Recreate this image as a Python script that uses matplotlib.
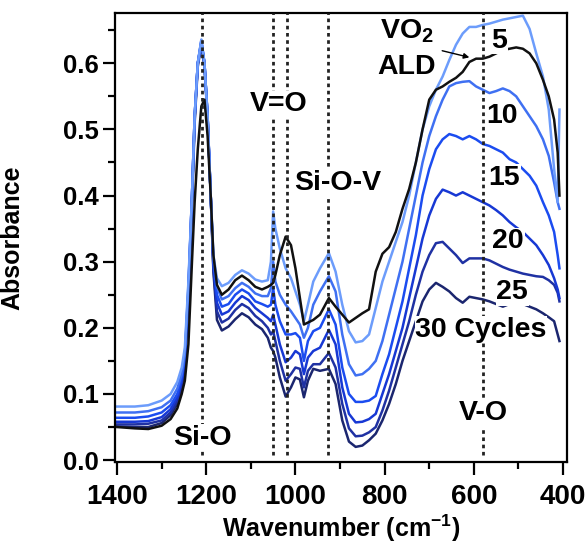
import matplotlib
matplotlib.use("Agg")
import matplotlib.pyplot as plt
from matplotlib.ticker import MultipleLocator

plt.rcParams["font.family"] = ["Liberation Sans", "DejaVu Sans"]
plt.rcParams["font.weight"] = "bold"
plt.rcParams["mathtext.default"] = "regular"

# shared wavenumber grid (cm^-1)
wavenumber = [
    1400, 1360, 1330, 1300, 1280, 1265, 1255, 1248, 1240, 1232, 1226, 1219,
    1211, 1204, 1197, 1190, 1184, 1176, 1165, 1150, 1135, 1120, 1105, 1090,
    1075, 1062, 1055, 1050, 1045, 1035, 1022, 1010, 1000, 990, 981, 972,
    960, 945, 925, 910, 895, 880, 865, 850, 835, 820, 805, 790, 775, 760,
    745, 730, 715, 700, 685, 670, 655, 640, 625, 610, 595, 580, 565, 550,
    535, 520, 505, 490, 475, 460, 445, 432, 420, 412, 408,
]

abs_5 = [
    0.081, 0.081, 0.083, 0.090, 0.100, 0.118, 0.140, 0.170, 0.270, 0.400, 0.520, 0.600,
    0.636, 0.600, 0.520, 0.400, 0.310, 0.275, 0.263, 0.268, 0.280, 0.287, 0.282, 0.273,
    0.270, 0.272, 0.300, 0.376, 0.350, 0.320, 0.290, 0.275, 0.255, 0.235, 0.210, 0.235,
    0.270, 0.290, 0.313, 0.285, 0.235, 0.195, 0.178, 0.180, 0.190, 0.230, 0.270, 0.300,
    0.330, 0.360, 0.400, 0.450, 0.500, 0.535, 0.560, 0.580, 0.605, 0.628, 0.645, 0.655,
    0.655, 0.658, 0.660, 0.663, 0.666, 0.668, 0.670, 0.672, 0.652, 0.615, 0.580, 0.530,
    0.440, 0.390, 0.530,
]
abs_10 = [
    0.072, 0.072, 0.074, 0.080, 0.090, 0.108, 0.130, 0.160, 0.265, 0.400, 0.520, 0.600,
    0.635, 0.600, 0.520, 0.400, 0.305, 0.262, 0.243, 0.248, 0.260, 0.268, 0.262, 0.252,
    0.248, 0.248, 0.260, 0.300, 0.270, 0.250, 0.235, 0.225, 0.215, 0.205, 0.185, 0.200,
    0.235, 0.255, 0.278, 0.255, 0.190, 0.145, 0.128, 0.130, 0.138, 0.150, 0.180, 0.220,
    0.260, 0.300, 0.350, 0.400, 0.450, 0.490, 0.520, 0.545, 0.565, 0.570, 0.572, 0.573,
    0.565, 0.560, 0.555, 0.558, 0.562, 0.558, 0.550, 0.535, 0.520, 0.505, 0.485, 0.460,
    0.420, 0.390, 0.380,
]
abs_15 = [
    0.064, 0.064, 0.066, 0.072, 0.083, 0.100, 0.125, 0.155, 0.260, 0.400, 0.520, 0.600,
    0.634, 0.600, 0.520, 0.400, 0.300, 0.250, 0.232, 0.236, 0.250, 0.258, 0.252, 0.240,
    0.236, 0.232, 0.235, 0.260, 0.235, 0.210, 0.190, 0.190, 0.192, 0.185, 0.150, 0.180,
    0.195, 0.200, 0.228, 0.205, 0.140, 0.100, 0.088, 0.088, 0.090, 0.097, 0.130, 0.160,
    0.200, 0.240, 0.290, 0.340, 0.400, 0.440, 0.470, 0.485, 0.493, 0.490, 0.485, 0.490,
    0.485, 0.478, 0.475, 0.470, 0.465, 0.455, 0.450, 0.440, 0.430, 0.415, 0.390, 0.370,
    0.345, 0.310, 0.290,
]
abs_20 = [
    0.058, 0.058, 0.059, 0.065, 0.077, 0.095, 0.120, 0.150, 0.255, 0.400, 0.520, 0.600,
    0.632, 0.600, 0.520, 0.400, 0.295, 0.238, 0.220, 0.225, 0.238, 0.248, 0.242, 0.230,
    0.222, 0.215, 0.210, 0.220, 0.205, 0.175, 0.148, 0.155, 0.165, 0.160, 0.130, 0.155,
    0.165, 0.170, 0.197, 0.175, 0.110, 0.070, 0.057, 0.058, 0.062, 0.070, 0.100, 0.130,
    0.165, 0.200, 0.245, 0.290, 0.335, 0.370, 0.395, 0.409, 0.405, 0.400, 0.405, 0.400,
    0.395, 0.390, 0.385, 0.378, 0.370, 0.360, 0.352, 0.345, 0.335, 0.325, 0.310, 0.295,
    0.275, 0.258, 0.245,
]
abs_25 = [
    0.054, 0.054, 0.055, 0.060, 0.072, 0.090, 0.115, 0.145, 0.250, 0.390, 0.515, 0.600,
    0.630, 0.600, 0.520, 0.400, 0.290, 0.225, 0.208, 0.214, 0.227, 0.236, 0.230, 0.218,
    0.210, 0.200, 0.190, 0.195, 0.180, 0.150, 0.120, 0.130, 0.140, 0.138, 0.110, 0.135,
    0.145, 0.145, 0.162, 0.140, 0.085, 0.048, 0.036, 0.037, 0.042, 0.050, 0.075, 0.105,
    0.140, 0.175, 0.210, 0.250, 0.285, 0.310, 0.328, 0.330, 0.320, 0.310, 0.298, 0.305,
    0.305, 0.305, 0.302, 0.297, 0.292, 0.288, 0.285, 0.282, 0.280, 0.278, 0.277, 0.272,
    0.265, 0.253, 0.240,
]
abs_30 = [
    0.051, 0.050, 0.050, 0.056, 0.068, 0.085, 0.110, 0.140, 0.245, 0.385, 0.510, 0.595,
    0.628, 0.595, 0.515, 0.400, 0.285, 0.212, 0.196, 0.202, 0.213, 0.222, 0.216, 0.205,
    0.198, 0.185, 0.170, 0.165, 0.155, 0.125, 0.096, 0.110, 0.125, 0.122, 0.095, 0.120,
    0.138, 0.135, 0.138, 0.115, 0.060, 0.028, 0.020, 0.022, 0.030, 0.040, 0.060, 0.085,
    0.115, 0.150, 0.180, 0.210, 0.240, 0.258, 0.268, 0.262, 0.255, 0.245, 0.238, 0.247,
    0.245, 0.243, 0.240, 0.236, 0.232, 0.236, 0.240, 0.236, 0.232, 0.228, 0.222, 0.216,
    0.210, 0.190, 0.180,
]
abs_ald = [
    0.050, 0.048, 0.047, 0.052, 0.062, 0.078, 0.100, 0.120, 0.175, 0.300, 0.390, 0.470,
    0.535, 0.545, 0.490, 0.400, 0.310, 0.265, 0.250, 0.258, 0.272, 0.279, 0.272, 0.262,
    0.258, 0.262, 0.265, 0.268, 0.280, 0.310, 0.338, 0.325, 0.290, 0.245, 0.205, 0.208,
    0.212, 0.220, 0.245, 0.232, 0.220, 0.208, 0.215, 0.222, 0.228, 0.285, 0.312, 0.322,
    0.345, 0.380, 0.410, 0.450, 0.500, 0.545, 0.560, 0.565, 0.572, 0.578, 0.587, 0.602,
    0.607, 0.607, 0.610, 0.615, 0.620, 0.622, 0.624, 0.622, 0.615, 0.600, 0.575, 0.550,
    0.515, 0.465, 0.400,
]

cycle_series = [abs_5, abs_10, abs_15, abs_20, abs_25, abs_30]
cycle_colors = ["#6c9cfb", "#3f70f2", "#1b4cf0", "#1738d4", "#1f31a3", "#1b266f"]

# band assignments marked with dotted lines
band_positions = [1210, 1050, 1020, 926, 580]
band_labels = {"Si-O": (1209, 0.034), "V=O": (1037, 0.538),
               "Si-O-V": (906, 0.419), "V-O": (579, 0.071)}
cycle_labels = {"5": (543, 0.634), "10": (537, 0.520), "15": (532, 0.427),
                "20": (523, 0.331), "25": (514, 0.254), "30 Cycles": (584, 0.197)}

fig = plt.figure(figsize=(5.87, 5.43), dpi=100)
ax = fig.add_axes([0.196, 0.149, 0.770, 0.827])

for series, color in zip(cycle_series[::-1], cycle_colors[::-1]):
    ax.plot(wavenumber, series, color=color, lw=1.8, zorder=2)
ax.plot(wavenumber, abs_ald, color="#111111", lw=1.8, zorder=3)

for pos in band_positions:
    ax.axvline(pos, ymin=0.015, ymax=1, color="#222222", lw=2.0,
               linestyle=(0, (1.3, 1.3)), zorder=4)

txt_kw = dict(fontsize=20.5, fontweight="bold", ha="center", va="center", zorder=5,
              bbox=dict(facecolor="white", edgecolor="none", pad=0.5))
for label, (x, y) in band_labels.items():
    ax.text(x, y, label, **txt_kw)
for label, (x, y) in cycle_labels.items():
    ax.text(x, y, label, **txt_kw)

ax.text(750, 0.648, r"VO$_2$", **txt_kw)
ax.text(750, 0.594, "ALD", **txt_kw)
ax.annotate("", xy=(604, 0.608), xytext=(677, 0.620),
            arrowprops=dict(arrowstyle="-|>", color="black", lw=1.0,
                            mutation_scale=8), zorder=5)

ax.set_xlim(1404.5, 391)
ax.set_ylim(-0.003, 0.676)
ax.xaxis.set_major_locator(MultipleLocator(200))
ax.xaxis.set_minor_locator(MultipleLocator(100))
ax.yaxis.set_major_locator(MultipleLocator(0.1))
ax.yaxis.set_minor_locator(MultipleLocator(0.05))
ax.tick_params(which="major", direction="out", length=9, width=1.6, pad=7)
ax.tick_params(which="minor", direction="out", length=5, width=1.6)
ax.tick_params(axis="x", which="major", labelsize=20)
ax.tick_params(axis="y", which="major", labelsize=18.5, pad=3)
for lab in ax.get_xticklabels() + ax.get_yticklabels():
    lab.set_fontweight("bold")
for sp in ax.spines.values():
    sp.set_linewidth(1.6)

ax.set_xlabel(r"Wavenumber (cm$^{-1}$)", fontsize=18, fontweight="bold")
ax.set_ylabel("Absorbance", fontsize=18, fontweight="bold")
ax.xaxis.set_label_coords(0.5, -0.113)
ax.yaxis.set_label_coords(-0.20, 0.5)

fig.savefig("out.png", dpi=100)
